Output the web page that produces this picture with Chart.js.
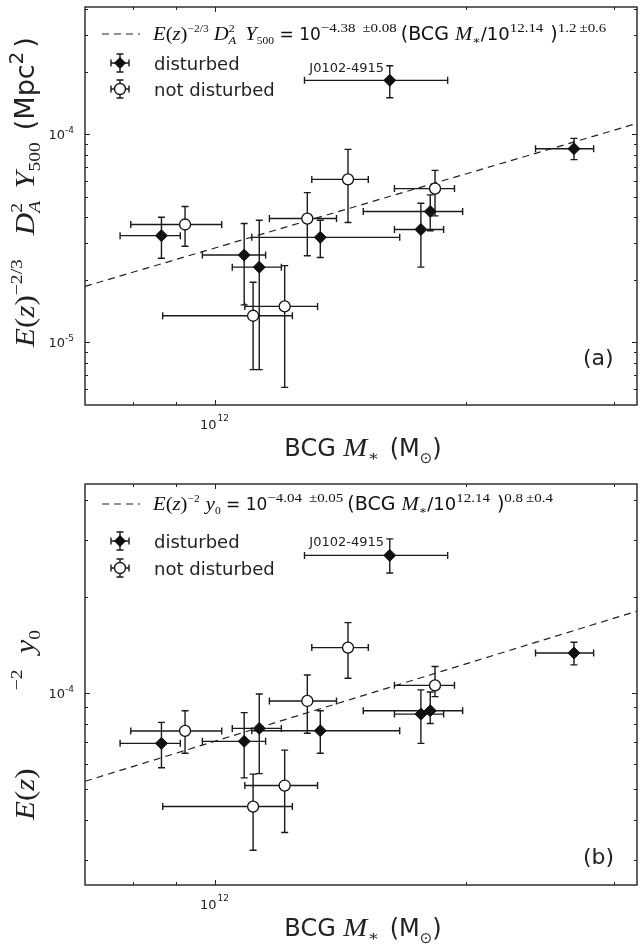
<!DOCTYPE html>
<html><head><meta charset="utf-8">
<script src="https://cdn.jsdelivr.net/npm/chart.js@4/dist/chart.umd.min.js"></script>
<style>
html,body{margin:0;padding:0;background:#fff;}
#wrap{position:relative;width:640px;height:944px;overflow:hidden;background:#fff;}
.pc{position:absolute;left:0;width:640px;height:472px;overflow:hidden;}
canvas{display:block;}
</style></head><body>
<div id="wrap">
<div class="pc" style="top:0"><canvas id="ca" width="644" height="472"></canvas></div>
<div class="pc" style="top:472px"><canvas id="cb" width="644" height="472"></canvas></div>
</div>
<script>
// ---------------- data ----------------
// BCG stellar mass (Msun), disturbed clusters (first = J0102-4915)
const massD   = [1.62e12, 2.69e12, 0.864e12, 1.085e12, 1.131e12, 1.338e12, 1.765e12, 1.811e12];
const massDLo = [1.281e12, 2.42e12, 0.771e12, 0.967e12, 1.050e12, 1.108e12, 1.641e12, 1.506e12];
const massDHi = [1.90e12, 2.84e12, 0.910e12, 1.151e12, 1.202e12, 1.665e12, 1.879e12, 1.980e12];
// not disturbed clusters
const massN   = [0.922e12, 1.112e12, 1.213e12, 1.291e12, 1.444e12, 1.835e12];
const massNLo = [0.794e12, 0.867e12, 1.087e12, 1.163e12, 1.307e12, 1.641e12];
const massNHi = [1.020e12, 1.239e12, 1.328e12, 1.399e12, 1.527e12, 1.936e12];

// panel (a): E(z)^-2/3 D_A^2 Y500 (Mpc^2)
const yA_D   = [1.82e-4, 8.54e-5, 3.26e-5, 2.63e-5, 2.30e-5, 3.20e-5, 3.49e-5, 4.26e-5];
const yA_DLo = [1.50e-4, 7.57e-5, 2.54e-5, 1.515e-5, 7.4e-6, 2.56e-5, 2.30e-5, 3.44e-5];
const yA_DHi = [2.14e-4, 9.57e-5, 4.00e-5, 3.73e-5, 3.87e-5, 3.87e-5, 4.67e-5, 5.12e-5];
const yA_N   = [3.69e-5, 1.343e-5, 1.49e-5, 3.94e-5, 6.08e-5, 5.49e-5];
const yA_NLo = [2.90e-5, 7.4e-6, 6.08e-6, 2.61e-5, 3.77e-5, 4.06e-5];
const yA_NHi = [4.50e-5, 1.945e-5, 2.34e-5, 5.25e-5, 8.48e-5, 6.72e-5];

// panel (b): E(z)^-2 y0
const yB_D   = [2.69e-4, 1.331e-4, 6.94e-5, 7.04e-5, 7.73e-5, 7.60e-5, 8.57e-5, 8.78e-5];
const yB_DLo = [2.37e-4, 1.222e-4, 5.82e-5, 5.41e-5, 5.58e-5, 6.46e-5, 6.94e-5, 8.01e-5];
const yB_DHi = [3.03e-4, 1.439e-4, 8.07e-5, 8.66e-5, 9.90e-5, 8.78e-5, 1.02e-4, 1.005e-4];
const yB_N   = [7.59e-5, 4.40e-5, 5.12e-5, 9.42e-5, 1.384e-4, 1.054e-4];
const yB_NLo = [6.46e-5, 3.21e-5, 3.65e-5, 7.46e-5, 1.109e-4, 9.72e-5];
const yB_NHi = [8.78e-5, 5.56e-5, 6.61e-5, 1.136e-4, 1.657e-4, 1.207e-4];

// best-fit lines (dashed), end points
const fitX = [7.0e11, 3.2e12];
const fitA = [1.86e-5, 1.13e-4];
const fitB = [5.28e-5, 1.80e-4];

// axes
const xRange = [7.0e11, 3.2e12];
const yRangeA = [5e-6, 4.1e-4];
const yRangeB = [2.5e-5, 4.5e-4];
const xMajorTicks = [1e12];
const xMinorTicks = [8e11, 9e11, 2e12, 3e12];
const xTickLabels = ['10^12'];
const yMajorTicksA = [1e-5, 1e-4];
const yMinorTicksA = [6e-6,7e-6,8e-6,9e-6,2e-5,3e-5,4e-5,5e-5,6e-5,7e-5,8e-5,9e-5,2e-4,3e-4,4e-4];
const yTickLabelsA = ['10^-5', '10^-4'];
const yMajorTicksB = [1e-4];
const yMinorTicksB = [3e-5,4e-5,5e-5,6e-5,7e-5,8e-5,9e-5,2e-4,3e-4,4e-4];
const yTickLabelsB = ['10^-4'];

const legendLabels = ['disturbed', 'not disturbed'];
const outlierName = 'J0102-4915';

// ---------------- rich text helpers ----------------
const SERIF = '"Liberation Serif", "DejaVu Serif", serif';
const SANS = '"DejaVu Sans", "Liberation Sans", sans-serif';
const SX = 1.15; // widen serif math glyphs (Computer Modern look)
const I = (t, s, dy) => ({t, s, dy: dy || 0, fam: SERIF, it: true, sx: SX});
const R = (t, s, dy) => ({t, s, dy: dy || 0, fam: SERIF, it: false, sx: SX});
const S = (t, s, dy) => ({t, s, dy: dy || 0, fam: SANS, it: false, sx: 1});
const G = (g) => ({gap: g});
const ST = (arr) => ({stack: arr});
function fontOf(tk) { return (tk.it ? 'italic ' : '') + tk.s + 'px ' + tk.fam; }
function tokW(ctx, tk) {
  if (tk.gap !== undefined) return tk.gap;
  if (tk.stack) return Math.max(...tk.stack.map(u => tokW(ctx, u)));
  ctx.font = fontOf(tk);
  return ctx.measureText(tk.t).width * tk.sx;
}
function richW(ctx, toks) { return toks.reduce((a, t) => a + tokW(ctx, t), 0); }
function drawTok(ctx, tk, x, y) {
  ctx.font = fontOf(tk);
  ctx.save();
  ctx.translate(x, y + tk.dy);
  ctx.scale(tk.sx, 1);
  ctx.fillText(tk.t, 0, 0);
  ctx.restore();
}
function drawRich(ctx, toks, x, y) {
  ctx.textAlign = 'left';
  ctx.textBaseline = 'alphabetic';
  for (const tk of toks) {
    if (tk.stack) { for (const u of tk.stack) drawTok(ctx, u, x, y); }
    else if (tk.gap === undefined) drawTok(ctx, tk, x, y);
    x += tokW(ctx, tk);
  }
}

const INK = '#1a1a1a';
const CAP = 3.5;

function errBar(ctx, px, py, pxl, pxh, pyl, pyh) {
  ctx.beginPath();
  ctx.moveTo(pxl, py); ctx.lineTo(pxh, py);
  ctx.moveTo(px, pyl); ctx.lineTo(px, pyh);
  ctx.moveTo(pxl, py - CAP); ctx.lineTo(pxl, py + CAP);
  ctx.moveTo(pxh, py - CAP); ctx.lineTo(pxh, py + CAP);
  ctx.moveTo(px - CAP, pyl); ctx.lineTo(px + CAP, pyl);
  ctx.moveTo(px - CAP, pyh); ctx.lineTo(px + CAP, pyh);
  ctx.stroke();
}

function makePanel(id, cfg) {
  const ctxEl = document.getElementById(id);
  const decor = {
    id: 'decor' + id,
    beforeDatasetsDraw(chart) {
      const ctx = chart.ctx, xs = chart.scales.x, ys = chart.scales.y;
      ctx.save();
      ctx.strokeStyle = INK; ctx.lineWidth = 1.4;
      const groups = [
        [massD, massDLo, massDHi, cfg.yD, cfg.yDLo, cfg.yDHi],
        [massN, massNLo, massNHi, cfg.yN, cfg.yNLo, cfg.yNHi]
      ];
      for (const g of groups) {
        for (let i = 0; i < g[0].length; i++) {
          errBar(ctx, xs.getPixelForValue(g[0][i]), ys.getPixelForValue(g[3][i]),
            xs.getPixelForValue(g[1][i]), xs.getPixelForValue(g[2][i]),
            ys.getPixelForValue(g[4][i]), ys.getPixelForValue(g[5][i]));
        }
      }
      ctx.restore();
    },
    afterDraw(chart) {
      const ctx = chart.ctx, xs = chart.scales.x, ys = chart.scales.y;
      const a = chart.chartArea;
      ctx.save();
      ctx.strokeStyle = '#222'; ctx.lineWidth = 1.4;
      ctx.strokeRect(a.left, a.top, a.right - a.left, a.bottom - a.top);
      ctx.lineWidth = 1;
      ctx.beginPath();
      const tick = (vals, len) => {
        for (const v of vals) {
          const p = Math.round(xs.getPixelForValue(v)) + 0.5;
          ctx.moveTo(p, a.bottom); ctx.lineTo(p, a.bottom - len);
          ctx.moveTo(p, a.top); ctx.lineTo(p, a.top + len);
        }
      };
      const ytick = (vals, len) => {
        for (const v of vals) {
          const p = Math.round(ys.getPixelForValue(v)) + 0.5;
          ctx.moveTo(a.left, p); ctx.lineTo(a.left + len, p);
          ctx.moveTo(a.right, p); ctx.lineTo(a.right - len, p);
        }
      };
      tick(xMajorTicks, 5); tick(xMinorTicks, 3);
      ytick(cfg.yMajor, 5); ytick(cfg.yMinor, 3);
      ctx.stroke();
      ctx.fillStyle = '#222';
      // y tick labels
      cfg.yMajor.forEach((v, i) => {
        const [base, ex] = cfg.yLabels[i].split('^');
        const toks = [S(base, 13), S(ex, 9, -6)];
        const w = richW(ctx, toks);
        drawRich(ctx, toks, a.left - 11 - w, ys.getPixelForValue(v) + 5);
      });
      // x tick labels
      xMajorTicks.forEach((v, i) => {
        const [base, ex] = xTickLabels[i].split('^');
        const toks = [S(base, 13), G(1), S(ex, 9, -8)];
        const w = richW(ctx, toks);
        drawRich(ctx, toks, xs.getPixelForValue(v) - w / 2, a.bottom + 24);
      });
      // x title
      const xt = [S('BCG ', 24), I('M', 25), R('\u2217', 15, 5), G(3), S(' (M', 24), S('\u2299', 15, 7), S(')', 24)];
      const xw = richW(ctx, xt);
      drawRich(ctx, xt, 363 - xw / 2, a.bottom + 51);
      // y title (rotated)
      const yw = richW(ctx, cfg.yTitle);
      ctx.save();
      ctx.translate(34, cfg.yTitleC);
      ctx.rotate(-Math.PI / 2);
      drawRich(ctx, cfg.yTitle, -yw / 2, 0);
      ctx.restore();
      // panel label
      ctx.font = '22px ' + SANS; ctx.fillStyle = '#222';
      ctx.textAlign = 'left'; ctx.textBaseline = 'alphabetic';
      ctx.fillText(cfg.tag, 583, cfg.tagY);
      // legend
      const ly = cfg.legY;
      ctx.strokeStyle = '#222'; ctx.lineWidth = 1.2;
      ctx.setLineDash([7, 5]);
      ctx.beginPath(); ctx.moveTo(102, ly[0]); ctx.lineTo(140, ly[0]); ctx.stroke();
      ctx.setLineDash([]);
      ctx.fillStyle = '#111';
      drawRich(ctx, cfg.legTitle, 153, ly[0] + 6);
      ctx.lineWidth = 1.4; ctx.strokeStyle = INK;
      for (let k = 0; k < 2; k++) {
        const cx = 120, cy = ly[k + 1];
        errBar(ctx, cx, cy, cx - 9, cx + 9, cy + 9, cy - 9);
        ctx.beginPath();
        if (k === 0) {
          ctx.moveTo(cx - 6, cy); ctx.lineTo(cx, cy - 6); ctx.lineTo(cx + 6, cy); ctx.lineTo(cx, cy + 6); ctx.closePath();
          ctx.fillStyle = '#111'; ctx.fill();
        } else {
          ctx.arc(cx, cy, 5.5, 0, Math.PI * 2);
          ctx.fillStyle = '#fff'; ctx.fill(); ctx.stroke();
        }
        ctx.fillStyle = '#222';
        ctx.font = '18px ' + SANS;
        ctx.fillText(legendLabels[k], 154, cy + 6.5);
      }
      // outlier annotation
      ctx.font = '13px ' + SANS; ctx.textAlign = 'right'; ctx.fillStyle = '#222';
      ctx.fillText(outlierName, 384, cfg.outY);
      ctx.restore();
    }
  };
  return new Chart(ctxEl, {
    type: 'scatter',
    data: {
      datasets: [
        {
          label: legendLabels[0],
          data: massD.map((x, i) => ({x, y: cfg.yD[i]})),
          pointStyle: 'rectRot', pointRadius: 6, pointHoverRadius: 6,
          backgroundColor: '#111', borderColor: '#111', borderWidth: 1
        },
        {
          label: legendLabels[1],
          data: massN.map((x, i) => ({x, y: cfg.yN[i]})),
          pointStyle: 'circle', pointRadius: 5.5, pointHoverRadius: 5.5,
          backgroundColor: '#fff', borderColor: '#111', borderWidth: 1.3
        },
        {
          type: 'line', label: 'fit',
          data: fitX.map((x, i) => ({x, y: cfg.fit[i]})),
          borderColor: '#222', borderWidth: 1.2, borderDash: [7, 5],
          pointRadius: 0, fill: false, tension: 0
        }
      ]
    },
    options: {
      responsive: false, animation: false, devicePixelRatio: 1,
      layout: {padding: cfg.pad},
      plugins: {legend: {display: false}, tooltip: {enabled: false}},
      scales: {
        x: {type: 'logarithmic', min: xRange[0], max: xRange[1], display: false},
        y: {type: 'logarithmic', min: cfg.yRange[0], max: cfg.yRange[1], display: false}
      }
    },
    plugins: [decor]
  });
}

makePanel('ca', {
  yD: yA_D, yDLo: yA_DLo, yDHi: yA_DHi, yN: yA_N, yNLo: yA_NLo, yNHi: yA_NHi,
  fit: fitA, yRange: yRangeA, yMajor: yMajorTicksA, yMinor: yMinorTicksA, yLabels: yTickLabelsA,
  pad: {left: 85, top: 5, right: 3, bottom: 67},
  tag: '(a)', tagY: 365, legY: [34, 63, 89], outY: 72, yTitleC: 192,
  yTitle: [I('E', 27), R('(', 27), I('z', 27), R(')', 27), R('\u22122/3', 17, -12), G(24),
    I('D', 27), ST([R('2', 17, -12), I('A', 17, 6)]), G(12), I('Y', 27), R('500', 17, 6), G(12),
    S('(Mpc', 27), S('2', 20, -11), G(4), S(')', 27)],
  legTitle: [I('E', 18), R('(', 18), I('z', 18), R(')', 18), R('\u22122/3', 10, -8), G(5),
    I('D', 18), ST([R('2', 11, -8), I('A', 11, 4)]), G(9), I('Y', 18), R('500', 10, 4),
    S(' = 10', 17), R('\u22124.38', 13, -8), G(7), R('\u00b10.08', 13, -8), G(4), S('(BCG ', 19), I('M', 18), R('\u2217', 11, 4),
    S('/10', 18), R('12.14', 13, -8), G(7), S(')', 19), R('1.2', 13, -8), G(3), R('\u00b10.6', 13, -8)]
});

makePanel('cb', {
  yD: yB_D, yDLo: yB_DLo, yDHi: yB_DHi, yN: yB_N, yNLo: yB_NLo, yNHi: yB_NHi,
  fit: fitB, yRange: yRangeB, yMajor: yMajorTicksB, yMinor: yMinorTicksB, yLabels: yTickLabelsB,
  pad: {left: 85, top: 12, right: 3, bottom: 59},
  tag: '(b)', tagY: 392, legY: [32, 69, 96], outY: 74, yTitleC: 253,
  yTitle: [I('E', 27), R('(', 27), I('z', 27), R(')', 27), G(78), R('\u22122', 17, -12), G(16),
    I('y', 27), R('0', 17, 6)],
  legTitle: [I('E', 18), R('(', 18), I('z', 18), R(')', 18), R('\u22122', 10, -8), G(6),
    I('y', 18), R('0', 10, 4),
    S(' = 10', 17), R('\u22124.04', 13, -8), G(7), R('\u00b10.05', 13, -8), G(4), S('(BCG ', 19), I('M', 18), R('\u2217', 11, 4),
    S('/10', 18), R('12.14', 13, -8), G(7), S(')', 19), R('0.8', 13, -8), G(3), R('\u00b10.4', 13, -8)]
});
</script>
</body></html>
